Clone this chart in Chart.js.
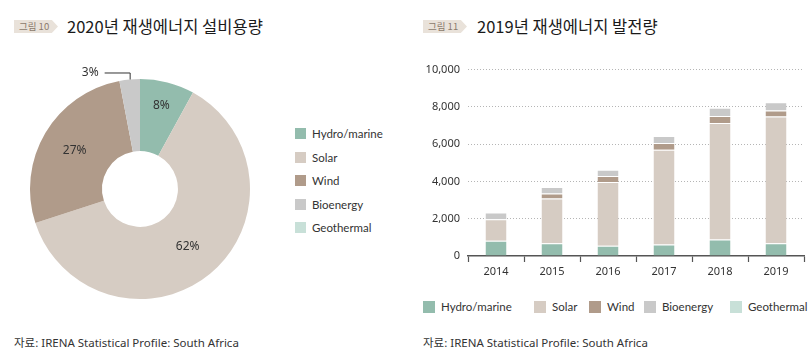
<!DOCTYPE html>
<html>
<head>
<meta charset="utf-8">
<script src="https://cdn.jsdelivr.net/npm/chart.js@4/dist/chart.umd.min.js"></script>
<style>
  html, body { margin:0; padding:0; background:#fff; }
  body { width:812px; height:356px; position:relative; overflow:hidden; font-family:"Noto Sans","Noto Sans CJK KR",sans-serif; color:#333; }
  .badge { position:absolute; height:13px; width:44px; background:#e9e2da; color:#8b7a6c; font:9.5px "Noto Sans CJK KR"; line-height:13px; padding-left:5px; box-sizing:border-box;
    clip-path: polygon(0 0, 86% 0, 100% 50%, 86% 100%, 0 100%); }
  .title { position:absolute; font:400 16.5px "Noto Sans CJK KR"; color:#1a1a1a; line-height:20px; white-space:nowrap; }
  .src { position:absolute; font:11.5px "Noto Sans","Noto Sans CJK KR"; color:#333; white-space:nowrap; line-height:16px; }
  .box { position:absolute; }
  .leg { position:absolute; font:11.5px Lato; color:#333; white-space:nowrap; }
  .leg .it { position:absolute; display:flex; align-items:center; }
  .leg .sw { display:inline-block; width:11px; height:11px; margin-right:6px; }
</style>
</head>
<body>
<div class="badge" style="left:14px;top:20px;">그림 10</div>
<div class="title" style="left:67px;top:16px;">2020년 재생에너지 설비용량</div>
<div class="badge" style="left:423px;top:20px;">그림 11</div>
<div class="title" style="left:477px;top:16px;">2019년 재생에너지 발전량</div>

<div class="box" style="left:0;top:60px;width:280px;height:250px;"><canvas id="pie"></canvas></div>
<div class="leg" id="leg1" style="left:295px;top:0;"></div>

<div class="box" style="left:406px;top:55px;width:406px;height:232px;"><canvas id="bar"></canvas></div>
<div class="leg" id="leg2" style="left:0;top:0;"></div>

<div class="src" style="left:14px;top:335px;">자료: IRENA Statistical Profile: South Africa</div>
<div class="src" style="left:423px;top:335px;">자료: IRENA Statistical Profile: South Africa</div>

<script>
// ---- data ----
const sources = ['Hydro/marine', 'Solar', 'Wind', 'Bioenergy', 'Geothermal'];
const sourceColors = ['#93bcad', '#d6ccc3', '#b09b8a', '#c9c9c9', '#c8e0d8'];
const capacityShare2020 = [8, 62, 27, 3, 0];

const years = ['2014', '2015', '2016', '2017', '2018', '2019'];
const hydroGen = [820, 680, 550, 620, 890, 680];
const solarGen = [1145, 2400, 3420, 5080, 6240, 6810];
const windGen = [0, 270, 320, 360, 375, 320];
const bioGen = [375, 350, 340, 375, 445, 445];
const geoGen = [0, 0, 0, 0, 0, 0];
const yTicks = [0, 2000, 4000, 6000, 8000, 10000];

// ---- legends (HTML) ----
const leg1 = document.getElementById('leg1');
sources.forEach((s, i) => {
  const d = document.createElement('div');
  d.className = 'it';
  d.style.left = '0px';
  d.style.top = (127 + i * 23.6) + 'px';
  d.innerHTML = '<span class="sw" style="background:' + sourceColors[i] + '"></span>' + s;
  leg1.appendChild(d);
});
const leg2 = document.getElementById('leg2');
const leg2x = [423, 534, 589, 644, 730];
sources.forEach((s, i) => {
  const d = document.createElement('div');
  d.className = 'it';
  d.style.left = leg2x[i] + 'px';
  d.style.top = '300px';
  d.innerHTML = '<span class="sw" style="width:12px;height:12px;background:' + sourceColors[i] + '"></span>' + s;
  leg2.appendChild(d);
});

// ---- doughnut labels plugin ----
const pctLabels = {
  id: 'pctLabels',
  afterDatasetsDraw(chart, args, opts) {
    const ctx = chart.ctx;
    const meta = chart.getDatasetMeta(0);
    const data = chart.data.datasets[0].data;
    const total = data.reduce((a, b) => a + b, 0);
    ctx.save();
    ctx.font = '12px "Noto Sans"';
    ctx.fillStyle = '#333';
    ctx.textBaseline = 'middle';
    meta.data.forEach((arc, i) => {
      const v = data[i];
      if (!v) return;
      const p = arc.getProps(['x', 'y', 'startAngle', 'endAngle', 'outerRadius'], true);
      const mid = (p.startAngle + p.endAngle) / 2;
      const txt = Math.round(v / total * 100) + '%';
      if (v / total < 0.05) {
        const ex = p.x + Math.cos(mid) * p.outerRadius;
        const ey = p.y + Math.sin(mid) * p.outerRadius;
        ctx.strokeStyle = '#333';
        ctx.lineWidth = 1;
        ctx.beginPath();
        ctx.moveTo(ex + 0.5, ey);
        ctx.lineTo(ex + 0.5, ey - 6.5);
        ctx.lineTo(ex - 25, ey - 6.5);
        ctx.stroke();
        ctx.textAlign = 'right';
        ctx.fillText(txt, ex - 31, ey - 7);
      } else {
        const r = (opts.radii[i] || 0.7) * p.outerRadius;
        ctx.textAlign = 'center';
        ctx.fillText(txt, p.x + Math.cos(mid) * r, p.y + Math.sin(mid) * r);
      }
    });
    ctx.restore();
  }
};

new Chart(document.getElementById('pie'), {
  type: 'doughnut',
  data: {
    labels: sources,
    datasets: [{ data: capacityShare2020, backgroundColor: sourceColors, borderWidth: 0 }]
  },
  options: {
    responsive: true,
    maintainAspectRatio: false,
    animation: false,
    cutout: '34.5%',
    layout: { padding: { left: 30, right: 30, top: 19, bottom: 11 } },
    plugins: {
      legend: { display: false },
      tooltip: { enabled: false },
      pctLabels: { radii: [0.78, 0.68, 0.69] }
    }
  },
  plugins: [pctLabels]
});

const genSeries = [hydroGen, solarGen, windGen, bioGen, geoGen];
new Chart(document.getElementById('bar'), {
  type: 'bar',
  data: {
    labels: years,
    datasets: sources.map((s, i) => ({
      label: s,
      data: genSeries[i],
      backgroundColor: sourceColors[i],
      borderColor: 'rgba(255,255,255,0.3)',
      borderWidth: { top: 1, bottom: 0, left: 0, right: 0 },
      borderSkipped: false,
      categoryPercentage: 1,
      barPercentage: 0.375
    }))
  },
  options: {
    responsive: true,
    maintainAspectRatio: false,
    animation: false,
    layout: { padding: { left: 0, right: 8, top: 14, bottom: 0 } },
    plugins: { legend: { display: false }, tooltip: { enabled: false } },
    scales: {
      x: {
        stacked: true,
        afterFit: s => { s.height = 31; },
        grid: { offset: true, drawOnChartArea: false, drawTicks: true, tickLength: 6, tickColor: '#555', tickWidth: 1.2 },
        border: { display: true, color: '#555', width: 1.5 },
        ticks: { color: '#333', font: { family: 'Noto Sans', size: 11 }, padding: 3 }
      },
      y: {
        stacked: true,
        min: 0, max: yTicks[yTicks.length - 1],
        afterFit: s => { s.width = 62; },
        afterBuildTicks: s => { s.ticks = yTicks.map(v => ({ value: v })); },
        grid: { drawTicks: false, color: ctx => ctx.tick && ctx.tick.value === 0 ? 'rgba(0,0,0,0)' : '#b5b5b5', lineWidth: 1 },
        border: { display: false, dash: [1, 2] },
        ticks: { color: '#333', font: { family: 'Noto Sans', size: 11 }, padding: 8,
          callback: v => v.toLocaleString('en-US') }
      }
    }
  }
});
</script>
</body>
</html>
